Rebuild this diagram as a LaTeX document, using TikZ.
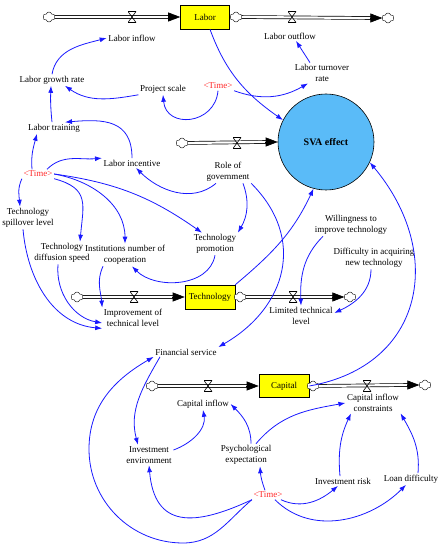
\documentclass[tikz,border=0pt]{standalone}
\usepackage{fontspec}
\setmainfont{Liberation Serif}
\usetikzlibrary{arrows.meta, shapes.symbols, shapes.geometric}
\definecolor{stockfill}{RGB}{255,255,0}
\definecolor{svablue}{RGB}{90,187,248}
\definecolor{linkblue}{RGB}{25,25,255}
\definecolor{timered}{RGB}{255,40,40}
\tikzset{
  var/.style={align=center, inner sep=1.5pt},
  timevar/.style={var, text=timered},
  stock/.style={
    draw=black,
    fill=stockfill,
    line width=0.6pt,
    minimum width=49pt,
    minimum height=24pt,
    inner sep=0pt
  },
  svanode/.style={
    circle,
    draw=black,
    fill=svablue,
    line width=0.6pt,
    minimum size=96pt,
    font=\fontsize{10}{12}\selectfont\bfseries
  },
  pipe/.style={draw=black, double=white, double distance=2.2pt, line width=0.7pt},
  pipetip/.style={-{Triangle[length=12pt,width=9pt]}, line width=0.6pt},
  valve/.style={
    minimum width=8pt,
    minimum height=11pt,
    inner sep=0pt,
    path picture={\draw[line width=0.6pt] (path picture bounding box.north west) -- (path picture bounding box.north east) -- (path picture bounding box.south west) -- (path picture bounding box.south east) -- cycle;}
  },
  cloudsrc/.style={
    cloud,
    cloud puffs=6,
    aspect=1.3,
    draw=black,
    fill=white,
    line width=0.4pt,
    minimum width=12pt,
    minimum height=10pt,
    inner sep=0pt
  },
  link/.style={-{Latex[length=7pt,width=5pt]}, draw=linkblue, line width=0.8pt}
}

\begin{document}
\begin{tikzpicture}[x=1pt, y=1pt, font=\fontsize{9}{11}\selectfont]
\useasboundingbox (0,0) rectangle (446,550);

\node[stock] (labor) at (205,533) {Labor};
\node[svanode] (svaeff) at (326,408) {SVA effect};
\node[stock, minimum width=50pt] (tech) at (210,253) {Technology};
\node[stock, minimum width=50pt, minimum height=23pt] (capital) at (284,164) {Capital};

\node[cloudsrc] (cl1a) at (49,533) {};
\node[cloudsrc] (cl1b) at (236,533) {};
\node[cloudsrc] (cl1c) at (388,532) {};
\node[cloudsrc] (cl2) at (182,407) {};
\node[cloudsrc] (cl3a) at (77,253) {};
\node[cloudsrc] (cl3b) at (240,253) {};
\node[cloudsrc] (cl3c) at (350,253) {};
\node[cloudsrc] (cl4a) at (152,164) {};
\node[cloudsrc] (cl4b) at (313,164) {};
\node[cloudsrc] (cl4c) at (425,165) {};

\draw[pipe] (cl1a) -- ([xshift=-11pt]labor.west);
\draw[pipetip] ([xshift=-12.5pt]labor.west) -- (labor.west);
\draw[pipe] (cl1b) -- ([xshift=-11pt]cl1c.west);
\draw[pipetip] ([xshift=-12.5pt]cl1c.west) -- (cl1c.west);
\draw[pipe] (cl2) -- ([xshift=-11pt]svaeff.west);
\draw[pipetip] ([xshift=-12.5pt]svaeff.west) -- (svaeff.west);
\draw[pipe] (cl3a) -- ([xshift=-11pt]tech.west);
\draw[pipetip] ([xshift=-12.5pt]tech.west) -- (tech.west);
\draw[pipe] (cl3b) -- ([xshift=-11pt]cl3c.west);
\draw[pipetip] ([xshift=-12.5pt]cl3c.west) -- (cl3c.west);
\draw[pipe] (cl4a) -- ([xshift=-11pt]capital.west);
\draw[pipetip] ([xshift=-12.5pt]capital.west) -- (capital.west);
\draw[pipe] (cl4b) -- ([xshift=-11pt]cl4c.west);
\draw[pipetip] ([xshift=-12.5pt]cl4c.west) -- (cl4c.west);

\node[valve] (v1a) at (132,533) {};
\node[valve] (v1b) at (292,533) {};
\node[valve] (v2) at (237,407) {};
\node[valve] (v3a) at (134,253) {};
\node[valve] (v3b) at (293,253) {};
\node[valve] (v4a) at (208,164) {};
\node[valve] (v4b) at (367,164) {};

\node[var] (lin) at (132,512) {Labor inflow};
\node[var] (lout) at (290,514) {Labor outflow};
\node[var] (lturn) at (322,477) {Labor turnover\\rate};
\node[var] (lgrow) at (52,470) {Labor growth rate};
\node[var] (pscale) at (163,461) {Project scale};
\node[timevar] (time1) at (218,464) {<Time>};
\node[var] (ltrain) at (54,422) {Labor training};
\node[var] (linc) at (132,387) {Labor incentive};
\node[timevar] (time2) at (38,376) {<Time>};
\node[var] (gov) at (228,378) {Role of\\government};
\node[var] (spill) at (28,332) {Technology\\spillover level};
\node[var] (diff) at (62,297) {Technology\\diffusion speed};
\node[var] (inst) at (125,295) {Institutions number of\\cooperation};
\node[var] (tprom) at (215,306) {Technology\\promotion};
\node[var] (will) at (351,325) {Willingness to\\improve technology};
\node[var] (acq) at (374,292) {Difficulty in acquiring\\new technology};
\node[var] (impr) at (133,232) {Improvement of\\technical level};
\node[var] (ltl) at (301,234) {Limited technical\\level};
\node[var] (fin) at (186,198) {Financial service};
\node[var] (cin) at (203,146) {Capital inflow};
\node[var] (cic) at (373,147) {Capital inflow\\constraints};
\node[var] (ienv) at (149,95) {Investment\\environment};
\node[var] (psy) at (246,95) {Psychological\\expectation};
\node[var] (irisk) at (343,69) {Investment risk};
\node[var] (loan) at (411,71) {Loan difficulty};
\node[timevar] (time3) at (268,55) {<Time>};

\coordinate (arcbot) at (183,7);
\coordinate (arcleft) at (89,101);

\draw[link] (lgrow.north) to[out=80,in=195] (lin.west);
\draw[link] (pscale.south west) to[out=190,in=-35] ([xshift=13pt]lgrow.south);
\draw[link] (time1.south) to[out=-95,in=-85,looseness=1.6] (pscale.south);
\draw[link] ([xshift=-2pt]ltrain.north) to[bend left=4] ([xshift=-1pt]lgrow.south);
\draw[link] (linc.north) to[out=90,in=5,looseness=1.3] ([xshift=11pt]ltrain.north);
\draw[link] ([xshift=-6pt]time2.north) to[out=95,in=-105] ([xshift=-17pt]ltrain.south);
\draw[link] ([xshift=9pt]time2.north) to[out=45,in=185] (linc.north west);
\draw[link] (time2.south west) to[out=-115,in=95] ([xshift=-8pt]spill.north);
\draw[link] (time2.south east) to[out=-15,in=85,looseness=1.4] ([xshift=18pt]diff.north);
\draw[link] (time2.east) to[out=-10,in=90] (inst.north);
\draw[link] (time2.east) to[out=-8,in=145] ([xshift=-13pt]tprom.north);
\draw[link] ([xshift=-12pt]gov.south) to[out=-140,in=-45] ([xshift=4pt]linc.south);
\draw[link] ([xshift=15pt]gov.south) to[out=-70,in=60] (tprom.north east);
\draw[link] (gov.south east) to[out=-45,in=30,looseness=1.2] (fin.north east);
\draw[link] (tech.north east) to[out=40,in=-115] (svaeff.-105);
\draw[link] (tprom.south) to[out=-100,in=-45] ([xshift=7pt]inst.south);
\draw[link] ([xshift=-22pt]inst.south) to[out=-115,in=95] (impr.north west);
\draw[link] ([xshift=-4pt]diff.south) to[out=-95,in=170] ([yshift=-5pt]impr.west);
\draw[link] ([xshift=-5pt]spill.south) to[out=-85,in=175] (impr.south west);
\draw[link] ([xshift=-26pt]fin.south) to[out=-120,in=105] ([xshift=-11pt]ienv.north);
\draw[link] (time3.south west) to[out=-140,in=0] (arcbot) to[out=180,in=-90] (arcleft) to[out=90,in=-150] (fin.south west);
\draw[link] (time3.south west) to[out=-155,in=-85,looseness=1.5] (ienv.south);
\draw[link] ([yshift=5pt]ienv.east) to[out=20,in=-80] (cin.south);
\draw[link] ([xshift=5pt]psy.north) to[out=90,in=-45] (cin.east);
\draw[link] ([xshift=10pt]psy.north) to[out=50,in=190] (cic.west);
\draw[link] ([xshift=-3pt]time3.north) to[bend left=8] ([xshift=14pt]psy.south);
\draw[link] ([xshift=13pt]time3.south) to[out=-25,in=-140] ([xshift=-5pt]irisk.south);
\draw[link] ([xshift=7pt]time3.south) to[out=-45,in=-135] ([xshift=-5pt]loan.south);
\draw[link] ([xshift=-3pt]irisk.north) to[out=95,in=-115] ([xshift=-22pt]cic.south);
\draw[link] ([xshift=7pt]loan.north) to[out=85,in=-60] (cic.south east);
\draw[link] (capital.east) to[out=10,in=-50,looseness=1.3] (svaeff.-25);
\draw[link] ([xshift=5pt]labor.south) to[out=-70,in=145] (svaeff.153);
\draw[link] (time1.south east) to[out=-20,in=-150] ([xshift=-14pt]lturn.south);
\draw[link] ([xshift=-12pt]lturn.north) -- ([xshift=6pt]lout.south);
\draw[link] ([xshift=-28pt]will.south) to[out=-135,in=92] (ltl.north);
\draw[link] ([xshift=-3pt]acq.south) to[out=-90,in=25] ([yshift=3pt]ltl.east);
\end{tikzpicture}
\end{document}
